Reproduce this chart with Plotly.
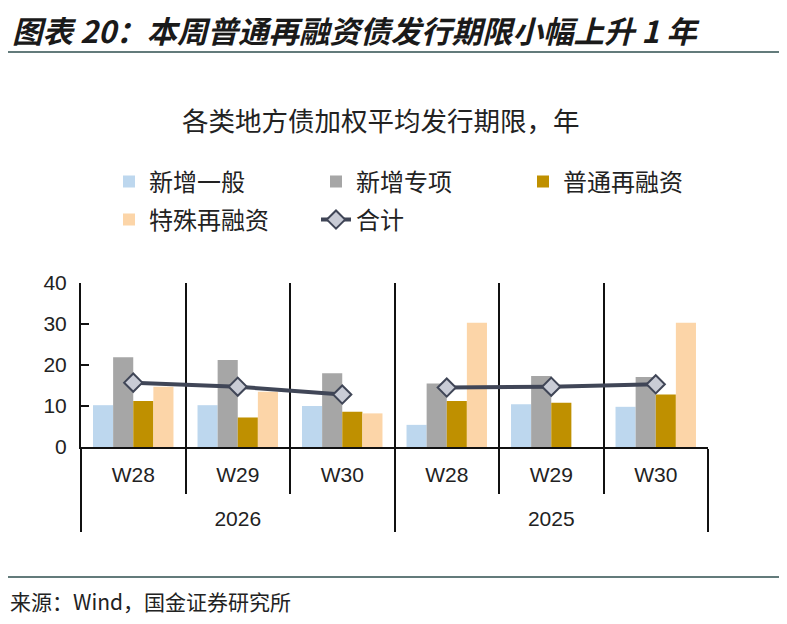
import plotly.graph_objects as go

# 各类地方债加权平均发行期限（年）
years = ["2026", "2026", "2026", "2025", "2025", "2025"]
weeks = ["W28", "W29", "W30", "W28", "W29", "W30"]

new_general = [10.2, 10.2, 10.0, 5.4, 10.4, 9.8]
new_special = [21.9, 21.2, 18.0, 15.5, 17.3, 17.1]
normal_refi = [11.2, 7.2, 8.6, 11.2, 10.8, 12.8]
special_refi = [14.7, 13.5, 8.2, 30.3, None, 30.3]
total = [15.7, 14.7, 12.8, 14.5, 14.7, 15.3]

# an empty second line under each week label gives the year row more room
week_labels = [w + "<br>&nbsp;" for w in weeks]
x = [years, week_labels]

# page has an 8px body margin, so work in page pixels and shift
OFF = 8
W, H = 771, 608
L = 81 - OFF
T = 283 - OFF
R = W - (708 - OFF)
B = H - (447 - OFF)
pw = W - L - R
ph = H - T - B

def px_x(p):
    return (p - OFF - L) / pw

def px_y(p):
    return 1 - (p - OFF - T) / ph

font_cn = "Noto Sans CJK SC"
font_num = "Liberation Sans"

fig = go.Figure()
bars = [
    ("新增一般", new_general, "#bdd7ee", "legend"),
    ("新增专项", new_special, "#a6a6a6", "legend"),
    ("普通再融资", normal_refi, "#bf9000", "legend"),
    ("特殊再融资", special_refi, "#fcd5a8", "legend2"),
]
for name, vals, col, lg in bars:
    fig.add_trace(go.Bar(x=x, y=vals, name=name, marker_color=col,
                         marker_line_width=0, legend=lg))

# 合计: two separate segments, one per year
for i, yr in enumerate(["2026", "2025"]):
    idx = [k for k in range(len(years)) if years[k] == yr]
    fig.add_trace(go.Scatter(
        x=[[years[k] for k in idx], [week_labels[k] for k in idx]],
        y=[total[k] for k in idx],
        name="合计", legendgroup="total", showlegend=(i == 0),
        legend="legend2",
        mode="lines+markers",
        line=dict(color="#404657", width=4),
        marker=dict(symbol="diamond", size=14, color="#c9ccd6",
                    line=dict(color="#404657", width=2)),
    ))

leg_common = dict(orientation="h", xanchor="left", yanchor="middle",
                  entrywidth=162, entrywidthmode="pixels",
                  font=dict(family=font_cn, size=24, color="#222"),
                  traceorder="normal", bgcolor="rgba(0,0,0,0)")

fig.update_layout(
    width=W, height=H,
    margin=dict(l=L, r=R, t=T, b=B, autoexpand=False),
    plot_bgcolor="white", paper_bgcolor="white",
    barmode="group", bargap=0.23, bargroupgap=0,
    font=dict(family=font_num, size=21, color="#222"),
    showlegend=True,
    legend=dict(x=px_x(109), y=px_y(182), **leg_common),
    legend2=dict(x=px_x(109), y=px_y(220), **leg_common),
)

fig.update_xaxes(
    type="multicategory",
    showline=True, linecolor="#111", linewidth=2,
    showgrid=True, gridcolor="#111", gridwidth=2,
    tickson="boundaries", ticks="outside", ticklen=45,
    tickcolor="#111", tickwidth=2,
    ticklabelstandoff=8,
    showdividers=True, dividercolor="#111", dividerwidth=2,
    tickfont=dict(family=font_num, size=21, color="#222"),
)
fig.update_yaxes(
    range=[0, 40], dtick=10,
    showline=True, linecolor="#111", linewidth=2,
    showgrid=False, zeroline=False,
    ticks="inside", ticklen=8, tickcolor="#111", tickwidth=2,
    ticklabelstandoff=8,
    tickfont=dict(family=font_num, size=21, color="#222"),
)

# header / footer rules
for yy in (52, 577):
    fig.add_shape(type="line", xref="paper", yref="paper",
                  x0=px_x(0), x1=px_x(787), y0=px_y(yy), y1=px_y(yy),
                  line=dict(color="#2f4f4f", width=1.5))

fig.add_annotation(text="<b><i>图表 20：本周普通再融资债发行期限小幅上升 1 年</i></b>",
                   xref="paper", yref="paper", x=px_x(10), y=px_y(30),
                   xanchor="left", yanchor="middle", showarrow=False,
                   font=dict(family=font_cn, size=30.5, color="#1a1a1a"))
fig.add_annotation(text="各类地方债加权平均发行期限，年",
                   xref="paper", yref="paper", x=px_x(381), y=px_y(119),
                   xanchor="center", yanchor="middle", showarrow=False,
                   font=dict(family=font_cn, size=26.5, color="#222"))
fig.add_annotation(text="来源：Wind，国金证券研究所",
                   xref="paper", yref="paper", x=px_x(8), y=px_y(601),
                   xanchor="left", yanchor="middle", showarrow=False,
                   font=dict(family=font_cn, size=21, color="#222"))

fig.write_html("out.html")
